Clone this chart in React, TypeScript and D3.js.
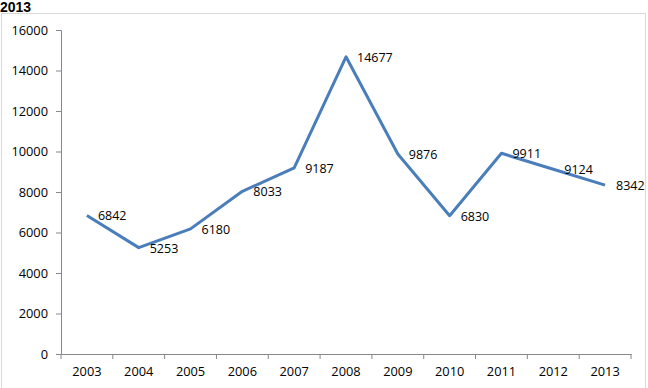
import React, { useRef, useEffect } from 'react';
import * as d3 from 'd3';

const years = ['2003', '2004', '2005', '2006', '2007', '2008', '2009', '2010', '2011', '2012', '2013'];
const values = [6842, 5253, 6180, 8033, 9187, 14677, 9876, 6830, 9911, 9124, 8342];
const yTicks = [0, 2000, 4000, 6000, 8000, 10000, 12000, 14000, 16000];

const W = 648;
const H = 388;

const App: React.FC = () => {
  const ref = useRef<SVGSVGElement>(null);

  useEffect(() => {
    const svg = d3.select(ref.current);
    svg.selectAll('*').remove();
    const font = "'Open Sans', 'Liberation Sans', sans-serif";

    // outer chart frame
    svg.append('rect')
      .attr('x', 1.5).attr('y', 13.5)
      .attr('width', 644).attr('height', 390)
      .attr('fill', 'none').attr('stroke', '#d9d9d9');

    svg.append('text')
      .attr('x', 0).attr('y', 11.5)
      .attr('font-family', "'Liberation Sans', Arial, sans-serif")
      .attr('font-weight', 'bold').attr('font-size', 14)
      .attr('fill', '#000')
      .text('2013');

    const x = d3.scaleBand().domain(years).range([61, 631]);
    const y = d3.scaleLinear().domain([0, 16000]).range([354, 30]);

    const yAxis = svg.append('g').attr('transform', 'translate(61,0)')
      .call(d3.axisLeft(y).tickValues(yTicks).tickSize(5).tickPadding(8).tickFormat(d3.format('d')));
    const xAxis = svg.append('g').attr('transform', 'translate(0,354)')
      .call(d3.axisBottom(x).tickSize(0).tickPadding(13));
    // x tick marks at band boundaries
    const bounds = years.map(d => x(d)!).concat([631]);
    xAxis.selectAll('.bound').data(bounds).enter().append('line')
      .attr('x1', d => d).attr('x2', d => d)
      .attr('y1', 0).attr('y2', 5)
      .attr('stroke', '#888');

    [yAxis, xAxis].forEach(g => {
      g.select('.domain').attr('stroke', '#888').attr('stroke-width', 1);
      g.selectAll('.tick line').attr('stroke', '#888');
      g.selectAll('text').attr('font-family', font).attr('font-size', 12.8).attr('fill', '#000');
    });

    const line = d3.line<number>()
      .x((d, i) => x(years[i])! + x.bandwidth() / 2)
      .y(d => y(d));

    svg.append('path')
      .datum(values)
      .attr('fill', 'none')
      .attr('stroke', '#4A7EBB')
      .attr('stroke-width', 3)
      .attr('stroke-linejoin', 'round')
      .attr('d', line);

    svg.append('g').selectAll('text').data(values).enter().append('text')
      .attr('x', (d, i) => x(years[i])! + x.bandwidth() / 2 + 11)
      .attr('y', d => y(d) + 5)
      .attr('font-family', font).attr('font-size', 12.5).attr('fill', '#000')
      .text(d => String(d));
  }, []);

  return <svg ref={ref} width={W} height={H} style={{ position: 'absolute', left: 0, top: 0 }}></svg>;
};

export default App;
